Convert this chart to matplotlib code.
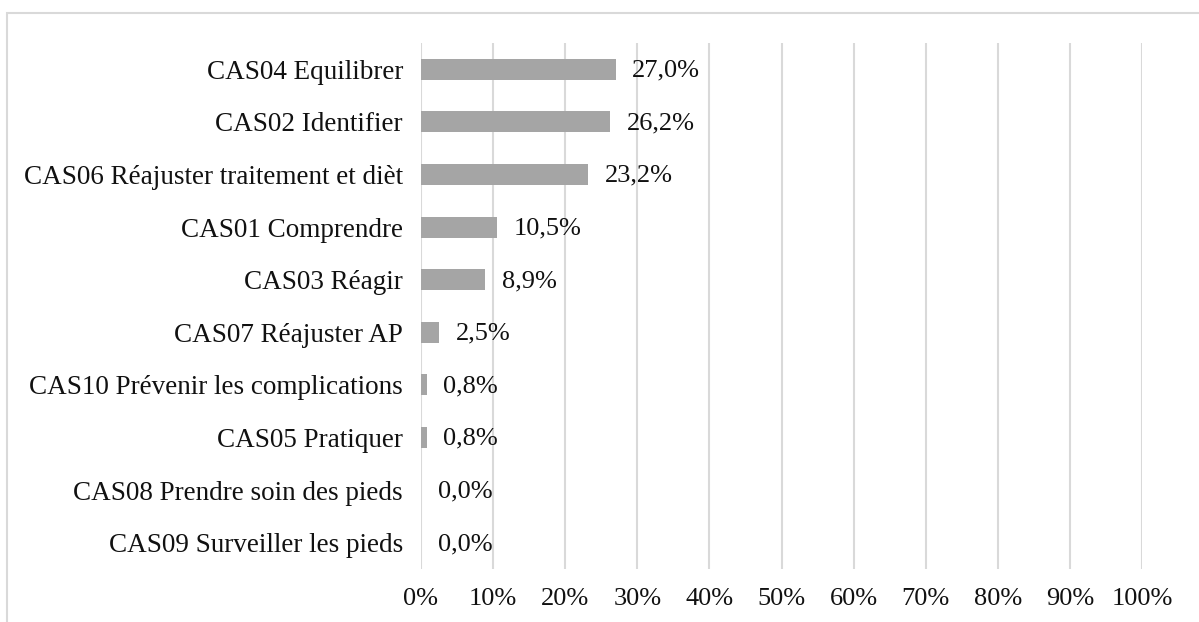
import matplotlib.pyplot as plt
from matplotlib.patches import Rectangle

categories = ["CAS04 Equilibrer", "CAS02 Identifier", "CAS06 Réajuster traitement et dièt",
              "CAS01 Comprendre", "CAS03 Réagir", "CAS07 Réajuster AP",
              "CAS10 Prévenir les complications", "CAS05 Pratiquer",
              "CAS08 Prendre soin des pieds", "CAS09 Surveiller les pieds"]
values = [27.0, 26.2, 23.2, 10.5, 8.9, 2.5, 0.8, 0.8, 0.0, 0.0]
ticks = [0, 10, 20, 30, 40, 50, 60, 70, 80, 90, 100]

plt.rcParams['font.family'] = ['Liberation Serif', 'DejaVu Serif']
fs = 19

fig = plt.figure(figsize=(11.99, 6.22), dpi=100)
W, H = 1199, 622
ax = fig.add_axes([421 / W, 1 - 569 / H, (1142 - 421) / W, (569 - 43) / H])

# outer chart border (clipped at right and bottom like the source)
fig.patches.append(Rectangle((7 / W, -0.05), 1.1, 1 - 13 / H + 0.05, transform=fig.transFigure,
                             fill=False, edgecolor='#D9D9D9', linewidth=1.5))

y = list(range(len(categories)))
ax.barh(y, values, height=0.4, color='#A5A5A5', zorder=3)
for yi, v in zip(y, values):
    ax.annotate(f"{v:.1f}%".replace('.', ','), (v, yi), xytext=(12, -1), textcoords='offset points',
                va='center', ha='left', fontsize=fs, color='#111111')

ax.set_xlim(0, 100)
ax.set_ylim(len(categories) - 0.5, -0.5)
ax.set_yticks(y)
ax.set_yticklabels(categories, fontsize=19.5, color='#111111')
ax.set_xticks(ticks)
ax.set_xticklabels([f"{t}%" for t in ticks], fontsize=fs, color='#111111')
ax.xaxis.grid(True, color='#D9D9D9', linewidth=1.5, zorder=0)
ax.tick_params(axis='x', length=0, pad=14)
ax.tick_params(axis='y', length=0, pad=13)
for s in ax.spines.values():
    s.set_visible(False)

fig.savefig('out.png', dpi=100)
